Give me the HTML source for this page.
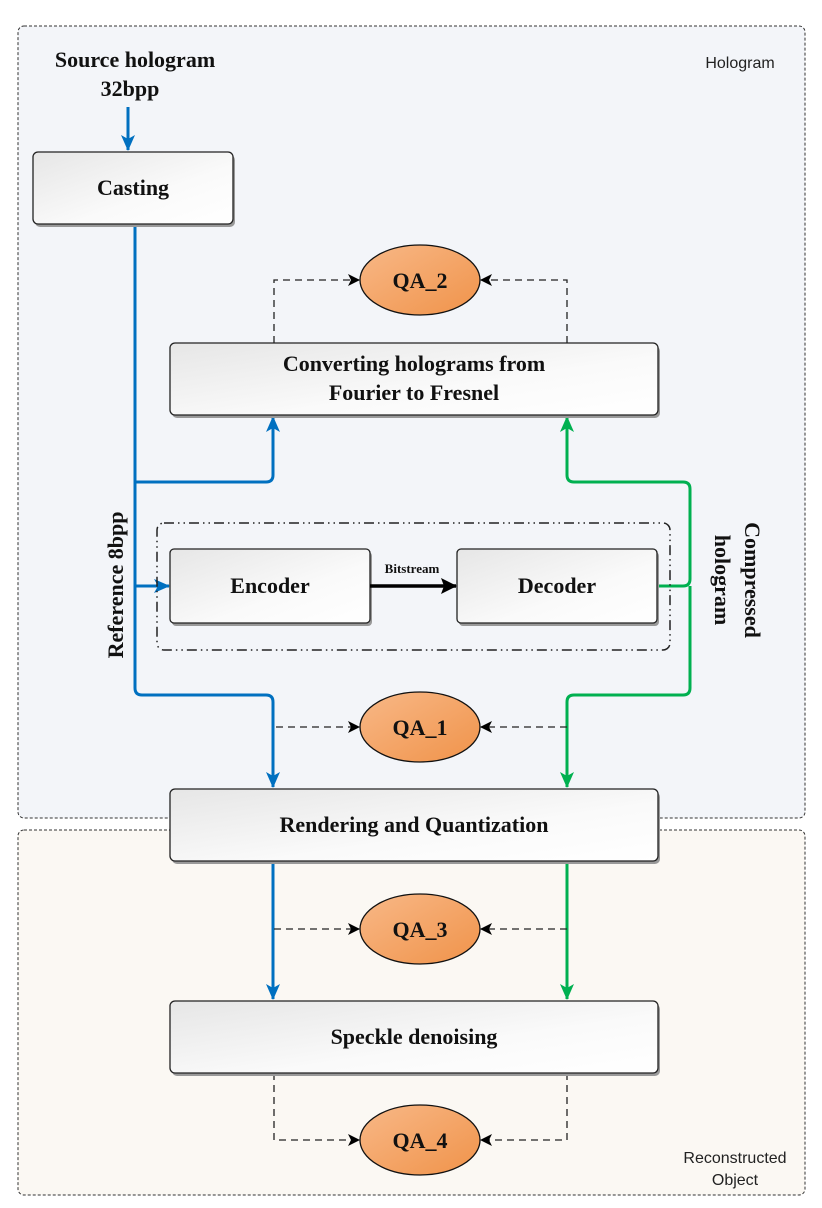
<!DOCTYPE html>
<html><head><meta charset="utf-8"><style>
html,body{margin:0;padding:0;background:#fff;}
svg{display:block;}
.t{font-family:"Liberation Serif",serif;font-weight:bold;fill:#111;}
.s{font-family:"Liberation Sans",sans-serif;fill:#222;}
</style></head><body>
<svg width="822" height="1208" viewBox="0 0 822 1208" xmlns="http://www.w3.org/2000/svg">
<defs>
<linearGradient id="bx" x1="0" y1="0" x2="1" y2="1"><stop offset="0" stop-color="#e6e6e6"/><stop offset="0.6" stop-color="#fafafa"/><stop offset="1" stop-color="#ffffff"/></linearGradient>
<linearGradient id="or" x1="0" y1="0" x2="1" y2="1"><stop offset="0" stop-color="#f8b887"/><stop offset="1" stop-color="#f0934a"/></linearGradient>
<marker id="ab" markerWidth="16" markerHeight="14" refX="15" refY="7" orient="auto" markerUnits="userSpaceOnUse"><path d="M0,0 L16,7 L0,14 L4,7z" fill="#0070c0"/></marker>
<marker id="ag" markerWidth="16" markerHeight="14" refX="15" refY="7" orient="auto" markerUnits="userSpaceOnUse"><path d="M0,0 L16,7 L0,14 L4,7z" fill="#00b050"/></marker>
<marker id="ak" markerWidth="16" markerHeight="16" refX="15" refY="8" orient="auto" markerUnits="userSpaceOnUse"><path d="M0,0 L16,8 L0,16 L3,8z" fill="#000"/></marker>
<marker id="ad" markerWidth="12" markerHeight="12" refX="11" refY="6" orient="auto" markerUnits="userSpaceOnUse"><path d="M0,0 L12,6 L0,12 L3,6z" fill="#000"/></marker>
</defs>
<rect x="18" y="26" width="787" height="792" rx="6" fill="#f3f5f9" stroke="#333" stroke-width="1" stroke-dasharray="3,2"/>
<rect x="18" y="830" width="787" height="365" rx="6" fill="#fbf8f3" stroke="#333" stroke-width="1" stroke-dasharray="3,2"/>
<text class="s" x="740" y="68" font-size="16" text-anchor="middle">Hologram</text>
<text class="s" x="735" y="1163" font-size="16" text-anchor="middle">Reconstructed</text>
<text class="s" x="735" y="1185" font-size="16" text-anchor="middle">Object</text>
<text class="t" x="135" y="67" font-size="22" text-anchor="middle">Source hologram</text>
<text class="t" x="130" y="96" font-size="22" text-anchor="middle">32bpp</text>
<!-- blue -->
<line x1="128" y1="107" x2="128" y2="150" stroke="#0070c0" stroke-width="3" marker-end="url(#ab)"/>
<path d="M135,224 V688 Q135,695 142,695 H266 Q273,695 273,702 V787" fill="none" stroke="#0070c0" stroke-width="3" marker-end="url(#ab)"/>
<path d="M135,482 H266 Q273,482 273,475 V417" fill="none" stroke="#0070c0" stroke-width="3" marker-end="url(#ab)"/>
<line x1="135" y1="586" x2="169" y2="586" stroke="#0070c0" stroke-width="3" marker-end="url(#ab)"/>
<line x1="273" y1="861" x2="273" y2="999" stroke="#0070c0" stroke-width="3" marker-end="url(#ab)"/>
<!-- green -->
<path d="M657,586 H683 Q690,586 690,579 V489 Q690,482 683,482 H574 Q567,482 567,475 V417" fill="none" stroke="#00b050" stroke-width="3" marker-end="url(#ag)"/>
<path d="M690,586 V688 Q690,695 683,695 H574 Q567,695 567,702 V787" fill="none" stroke="#00b050" stroke-width="3" marker-end="url(#ag)"/>
<line x1="567" y1="861" x2="567" y2="999" stroke="#00b050" stroke-width="3" marker-end="url(#ag)"/>
<!-- dashed -->
<g fill="none" stroke="#222" stroke-width="1.3" stroke-dasharray="7,5">
<path d="M274,343 V280 H359" marker-end="url(#ad)"/>
<path d="M567,343 V280 H481" marker-end="url(#ad)"/>
<path d="M276,727 H359" marker-end="url(#ad)"/>
<path d="M567,727 H481" marker-end="url(#ad)"/>
<path d="M274,929 H359" marker-end="url(#ad)"/>
<path d="M567,929 H481" marker-end="url(#ad)"/>
<path d="M274,1073 V1140 H359" marker-end="url(#ad)"/>
<path d="M567,1073 V1140 H481" marker-end="url(#ad)"/>
</g>
<!-- boxes -->
<g stroke="#222" stroke-width="1.3" fill="url(#bx)">
<rect x="35" y="155" width="200" height="72" rx="5" fill="#999" stroke="none"/>
<rect x="33" y="152" width="200" height="72" rx="5"/>
<rect x="172" y="346" width="488" height="72" rx="5" fill="#999" stroke="none"/>
<rect x="170" y="343" width="488" height="72" rx="5"/>
<rect x="172" y="792" width="488" height="72" rx="5" fill="#999" stroke="none"/>
<rect x="170" y="789" width="488" height="72" rx="5"/>
<rect x="172" y="1004" width="488" height="72" rx="5" fill="#999" stroke="none"/>
<rect x="170" y="1001" width="488" height="72" rx="5"/>
</g>
<rect x="157" y="523" width="513" height="127" rx="7" fill="none" stroke="#222" stroke-width="1.5" stroke-dasharray="10,4,1.5,4,1.5,4"/>
<g stroke="#222" stroke-width="1.3" fill="url(#bx)">
<rect x="172" y="552" width="200" height="74" rx="4" fill="#999" stroke="none"/>
<rect x="170" y="549" width="200" height="74" rx="4"/>
<rect x="459" y="552" width="200" height="74" rx="4" fill="#999" stroke="none"/>
<rect x="457" y="549" width="200" height="74" rx="4"/>
</g>
<line x1="370" y1="586" x2="456" y2="586" stroke="#000" stroke-width="3.5" marker-end="url(#ak)"/>
<text class="t" x="412" y="573" font-size="13" text-anchor="middle">Bitstream</text>
<!-- ellipses -->
<g stroke="#111" stroke-width="1.3" fill="url(#or)">
<ellipse cx="420" cy="280" rx="60" ry="35"/>
<ellipse cx="420" cy="727" rx="60" ry="35"/>
<ellipse cx="420" cy="929" rx="60" ry="35"/>
<ellipse cx="420" cy="1140" rx="60" ry="35"/>
</g>
<g class="t" font-size="22" text-anchor="middle">
<text x="420" y="288">QA_2</text>
<text x="420" y="735">QA_1</text>
<text x="420" y="937">QA_3</text>
<text x="420" y="1148">QA_4</text>
<text x="133" y="195">Casting</text>
<text x="414" y="371">Converting holograms from</text>
<text x="414" y="400">Fourier to Fresnel</text>
<text x="270" y="593">Encoder</text>
<text x="557" y="593">Decoder</text>
<text x="414" y="832">Rendering and Quantization</text>
<text x="414" y="1044">Speckle denoising</text>
</g>
<text class="t" font-size="22" text-anchor="middle" transform="translate(123,585) rotate(-90)">Reference 8bpp</text>
<text class="t" font-size="22" text-anchor="middle" transform="translate(745,580) rotate(90)">Compressed</text>
<text class="t" font-size="22" text-anchor="middle" transform="translate(715,580) rotate(90)">hologram</text>
</svg>
</body></html>
